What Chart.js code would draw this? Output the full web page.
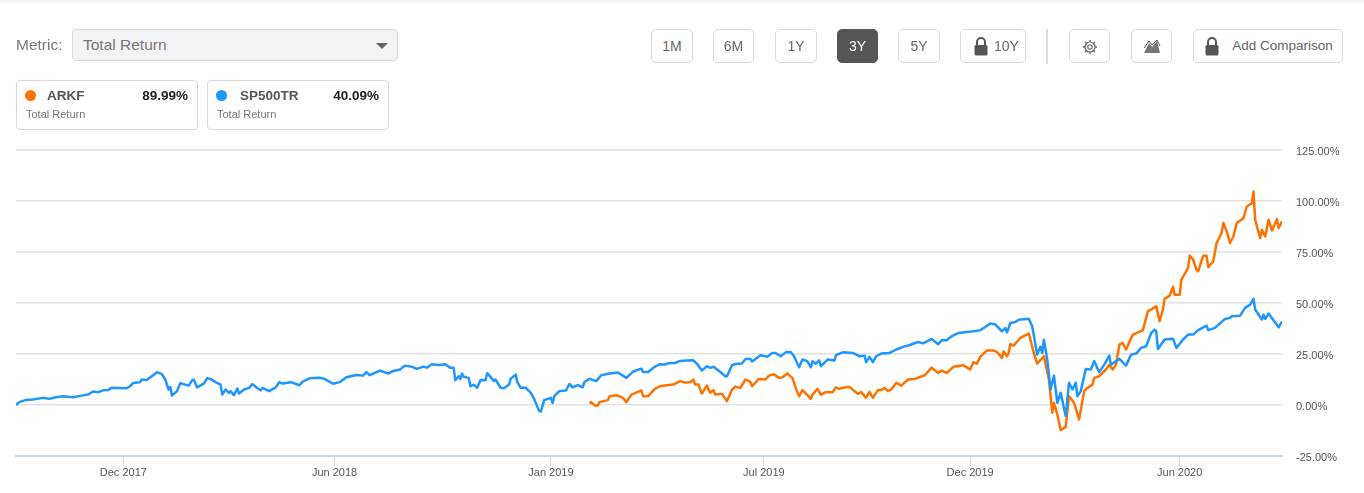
<!DOCTYPE html>
<html>
<head>
<meta charset="utf-8">
<title>ARKF vs SP500TR Total Return</title>
<script src="https://cdn.jsdelivr.net/npm/chart.js@4/dist/chart.umd.min.js"></script>
<style>
  html, body { margin: 0; padding: 0; background: #fff; overflow: hidden; }
  body { width: 1364px; height: 493px; position: relative; font-family: "Liberation Sans", Arial, sans-serif; }
  .strip { position: absolute; left: 0; top: 0; width: 1364px; height: 2px; background: #f3f4f7; }
  canvas { position: absolute; left: 0; top: 0; }
  .abs { position: absolute; box-sizing: border-box; }
  .metric { left: 16px; top: 36px; font-size: 15.5px; line-height: 18px; color: #777; }
  .select { left: 72px; top: 29px; width: 326px; height: 32px; background: #f2f3f7; border: 1px solid #d9d9d9; border-radius: 4px; color: #777; font-size: 15.5px; line-height: 30px; padding-left: 10px; }
  .caret { left: 376px; top: 43px; width: 0; height: 0; border-left: 6.5px solid transparent; border-right: 6.5px solid transparent; border-top: 6px solid #666; }
  .card { top: 80px; width: 182px; height: 50px; background: #fff; border: 1px solid #d9d9d9; border-radius: 4px; }
  .dot { top: 90px; width: 11px; height: 11px; border-radius: 50%; }
  .name { top: 88px; font-size: 13.5px; line-height: 16px; font-weight: bold; color: #555; }
  .pct { top: 88px; font-size: 13.5px; line-height: 16px; font-weight: bold; color: #222; text-align: right; }
  .sub { top: 108px; font-size: 11px; line-height: 13px; color: #777; }
  .btn { top: 29px; height: 34px; background: #fff; border: 1px solid #d9d9d9; border-radius: 5px; color: #666; font-size: 14px; line-height: 32px; text-align: center; }
  .btn.on { background: #555; border-color: #555; color: #fff; }
  .btn svg { position: absolute; }
  .divider { left: 1046px; top: 29px; width: 2px; height: 35px; background: #dcdcdc; }
</style>
</head>
<body>
<div class="strip"></div>
<canvas id="chart" width="1364" height="493"></canvas>

<div class="abs metric">Metric:</div>
<div class="abs select">Total Return</div>
<div class="abs caret"></div>

<div class="abs card" style="left:16px"></div>
<div class="abs dot" style="left:25px;background:#ff7200"></div>
<div class="abs name" style="left:47px">ARKF</div>
<div class="abs pct" style="left:120px;width:68px">89.99%</div>
<div class="abs sub" style="left:26px">Total Return</div>

<div class="abs card" style="left:207px"></div>
<div class="abs dot" style="left:216px;background:#1e96ff"></div>
<div class="abs name" style="left:240px">SP500TR</div>
<div class="abs pct" style="left:311px;width:68px">40.09%</div>
<div class="abs sub" style="left:217px">Total Return</div>

<div class="abs btn" style="left:651px;width:42px">1M</div>
<div class="abs btn" style="left:713px;width:41px">6M</div>
<div class="abs btn" style="left:775px;width:42px">1Y</div>
<div class="abs btn on" style="left:837px;width:41px">3Y</div>
<div class="abs btn" style="left:898px;width:42px">5Y</div>
<div class="abs btn" style="left:960px;width:66px;padding-left:27px">
  <svg style="left:13px;top:7px" width="14" height="19" viewBox="0 0 14 19"><path d="M3 8V5a4 4 0 0 1 8 0v3" fill="none" stroke="#555" stroke-width="2"/><rect x="0.5" y="8" width="13" height="10.5" rx="1.5" fill="#555"/></svg>10Y</div>
<div class="abs divider"></div>
<div class="abs btn" style="left:1069px;width:41px">
  <svg style="left:12px;top:9px" width="16" height="16" viewBox="0 0 16 16"><circle cx="8" cy="8" r="5" fill="none" stroke="#666" stroke-width="1.2"/><circle cx="8" cy="8" r="2.2" fill="none" stroke="#666" stroke-width="1.1"/><path d="M8 1v2M8 13v2M1 8h2M13 8h2M3 3l1.5 1.5M11.5 11.5L13 13M13 3l-1.5 1.5M4.5 11.5L3 13" stroke="#666" stroke-width="1.4"/></svg></div>
<div class="abs btn" style="left:1131px;width:41px">
  <svg style="left:12px;top:10px" width="17" height="13" viewBox="0 0 17 13"><path d="M0 13L5 3l3 4 5-6 3 12z" fill="#777"/><path d="M0 8L5 1l3 4 5-5 3 6" fill="none" stroke="#555" stroke-width="1"/></svg></div>
<div class="abs btn" style="left:1193px;width:150px;padding-left:29px;font-size:13.5px">
  <svg style="left:11px;top:7px" width="14" height="19" viewBox="0 0 14 19"><path d="M3 8V5a4 4 0 0 1 8 0v3" fill="none" stroke="#555" stroke-width="2"/><rect x="0.5" y="8" width="13" height="10.5" rx="1.5" fill="#555"/></svg>Add Comparison</div>

<script>
// trading sessions since the start of the 3Y window
const spSessions = [0,2,6,10,16,20,23,28,34,39,43,46,49,52,55,57,66,68,70,74,75,78,81,84,87,89,91,92,93,96,98,103,105,106,108,112,114,116,119,122,123,125,127,128,130,132,133,136,139,141,144,146,147,151,155,157,159,164,169,171,175,181,184,189,193,
  197,203,207,209,211,217,222,225,229,232,236,239,243,245,248,252,256,259,261,262,264,265,266,267,270,271,273,275,277,280,281,285,286,289,291,294,295,298,299,301,304,307,309,312,313,315,319,320,321,324,328,330,332,335,338,339,342,346,349,354,359,364,368,373,374,377,381,384,387,389,393,396,
  400,404,406,409,412,414,416,420,423,424,427,429,433,435,438,439,444,448,451,453,456,459,462,464,467,469,471,472,474,475,477,479,480,484,488,489,493,499,503,506,507,509,511,513,516,521,525,529,533,538,541,546,550,552,555,558,562,567,571,575,581,584,588,590,591,593,596,598,
  604,606,609,611,612,613,615,617,619,621,623,626,628,630,632,633,635,638,641,643,646,649,652,653,658,662,665,668,671,674,677,679,680,681,685,690,692,696,699,702,
  705,710,711,715,721,724,725,730,733,736,738,739,743,744,745,747,751,753,755];
const spValues = [0,1.4,2.5,2.7,3.5,3.0,3.7,4.3,3.8,4.6,5.1,6.6,6.3,7.2,7.4,8.4,8.2,9.2,10.8,11.2,12.5,12.3,14.1,16.1,15.1,12.5,7.6,8.9,4.6,6.8,10.7,9.5,12.1,12.5,8.6,10.5,13.1,12.8,11.2,10.0,5.1,7.6,5.9,6.8,4.8,8.1,5.6,7.6,8.4,10.2,8.2,7.2,8.4,6.8,8.7,11.2,10.5,11.2,9.7,11.5,13.1,13.4,12.8,10.4,11.2,
  13.6,14.7,14.4,16.1,14.6,16.9,15.4,16.7,17.4,19.3,18.8,17.7,18.8,18.3,20.0,19.6,20.0,18.2,18.2,12.1,14.1,12.8,15.4,13.8,13.3,9.2,10.0,8.4,12.1,12.1,15.6,11.8,12.5,8.4,8.2,10.0,12.9,14.9,11.2,8.4,8.4,5.9,3.0,-3.0,-3.2,2.4,3.5,1.0,4.3,6.8,7.1,10.3,8.7,9.7,8.7,11.3,12.8,11.7,14.6,15.4,15.9,13.3,16.4,17.8,16.2,16.2,18.7,20.0,19.8,20.5,20.6,21.6,
  21.8,21.9,20.3,16.9,19.0,18.2,18.7,16.2,14.1,14.1,19.5,20.1,20.3,22.6,22.6,21.3,24.4,23.7,25.5,25.5,23.9,25.8,26.0,23.9,18.5,22.3,21.8,21.4,18.5,21.4,20.3,21.9,19.0,22.3,21.8,24.4,25.8,25.5,23.9,24.2,21.0,23.6,21.0,23.9,25.2,25.5,27.2,28.5,29.4,30.9,30.2,32.4,29.8,31.7,31.7,33.7,35.3,35.8,36.1,36.6,39.9,39.5,36.1,37.7,35.6,40.2,40.7,41.8,
  42.3,38.6,24.7,28.5,25.5,32.0,22.3,7.6,14.4,1.1,6.0,-5.4,10.9,7.6,10.9,4.3,6.8,17.7,17.4,21.5,16.1,19.8,24.2,19.8,22.6,19.3,24.7,25.2,28.0,28.8,35.3,36.9,36.1,27.5,32.1,32.5,28.0,32.1,34.5,34.5,
  36.7,38.9,36.7,37.8,42.2,42.7,43.5,43.8,47.6,49.2,52.0,46.8,41.9,44.3,42.2,44.8,40.3,38.1,40.9];

const arkfSessions = [342,343,345,347,348,353,354,358,362,364,367,372,373,374,377,381,384,388,392,396,
  399,402,404,405,407,409,412,414,416,417,421,424,427,429,432,435,438,439,443,447,449,452,455,457,460,463,465,467,469,472,474,475,478,480,483,487,489,491,494,497,502,504,507,509,511,514,516,518,520,522,525,528,532,536,542,546,550,552,555,559,565,569,571,573,575,579,583,585,588,589,591,592,593,595,598,
  599,604,607,609,613,616,618,619,621,623,626,628,631,634,637,639,642,643,646,650,652,654,656,658,660,662,666,672,675,680,682,684,685,688,690,691,694,695,699,700,702,704,705,708,710,711,714,716,719,720,722,724,726,728,732,734,737,738,739,742,743,745,747,749,752,753,755];
const arkfValues = [0.7,1.4,-0.2,-0.2,1.4,2.4,4.3,4.8,3.5,1.4,5.1,6.8,7.1,4.3,4.3,7.9,9.2,9.7,10.0,11.7,
  11.0,11.2,12.5,10.0,10.0,5.6,9.5,6.0,7.3,5.1,5.5,1.9,7.6,8.9,8.4,12.5,11.3,9.2,12.8,12.5,14.4,15.1,13.3,13.5,15.4,13.3,8.4,4.3,7.3,4.8,3.0,5.1,7.9,5.1,6.3,6.3,8.7,7.9,8.6,8.9,5.5,6.3,3.5,6.4,3.5,7.3,7.3,8.4,6.8,7.6,10.9,9.5,12.5,12.8,14.6,18.3,15.7,16.9,15.7,18.7,19.5,17.4,21.0,20.1,23.6,26.7,26.7,26.0,23.1,26.3,23.9,25.5,29.9,29.1,32.0,
  32.9,35.0,25.5,20.3,23.9,12.5,-3.8,1.1,-4.6,-12.3,-10.7,4.3,1.1,-7.1,6.8,8.4,10.0,13.3,14.1,17.4,19.8,17.4,19.8,29.6,30.4,27.2,34.5,36.6,45.9,48.4,41.1,46.8,52.0,53.6,57.9,54.1,54.1,61.4,67.2,73.3,71.2,66.3,65.5,73.2,73.2,67.6,70.4,79.4,84.3,89.2,85.1,79.4,82.6,89.2,91.6,97.3,98.9,104.6,90.8,81.8,85.9,82.6,90.8,85.6,91.1,86.7,90.0];

const tickLabels = ['Dec 2017','Jun 2018','Jan 2019','Jul 2019','Dec 2019','Jun 2020'];
const tickSessions = [64,190,319,446,569,694];
const yMin = -25, yMax = 125, yStep = 25;
const lastSession = 755;

const toPoints = (xs, ys) => xs.map((x, i) => ({ x: x, y: ys[i] }));

new Chart(document.getElementById('chart'), {
  type: 'line',
  data: {
    datasets: [
      { label: 'SP500TR', data: toPoints(spSessions, spValues), borderColor: '#1e96ff', borderWidth: 2.5, borderJoinStyle: 'round', pointRadius: 0, tension: 0, order: 1 },
      { label: 'ARKF', data: toPoints(arkfSessions, arkfValues), borderColor: '#ff7200', borderWidth: 2.5, borderJoinStyle: 'round', pointRadius: 0, tension: 0, order: 2 }
    ]
  },
  options: {
    responsive: false,
    animation: false,
    layout: { padding: { left: 16, top: 150 } },
    plugins: { legend: { display: false }, tooltip: { enabled: false } },
    scales: {
      x: {
        type: 'linear',
        min: 0,
        max: lastSession,
        afterBuildTicks: (scale) => { scale.ticks = tickSessions.map(v => ({ value: v })); },
        afterFit: (scale) => { scale.height = 37; },
        grid: { drawOnChartArea: false, tickLength: 10, color: '#ccd6eb' },
        border: { color: '#ccd6eb', width: 2 },
        ticks: {
          autoSkip: false,
          maxRotation: 0,
          padding: 0,
          color: '#555',
          font: { family: '"Liberation Sans", Arial, sans-serif', size: 11 },
          callback: (v) => tickLabels[tickSessions.indexOf(v)]
        }
      },
      y: {
        position: 'right',
        min: yMin,
        max: yMax,
        afterFit: (scale) => { scale.width = 82; },
        grid: { drawTicks: false, lineWidth: 1.5, color: (c) => c.tick.value === yMin ? 'rgba(0,0,0,0)' : '#e2e2e2' },
        border: { display: false },
        ticks: {
          stepSize: yStep,
          padding: 14,
          color: '#555',
          // blank first line nudges the label just under its gridline
          font: { family: '"Liberation Sans", Arial, sans-serif', size: 11, lineHeight: '3px' },
          callback: (v) => ['', v.toFixed(2) + '%']
        }
      }
    }
  }
});
</script>
</body>
</html>
